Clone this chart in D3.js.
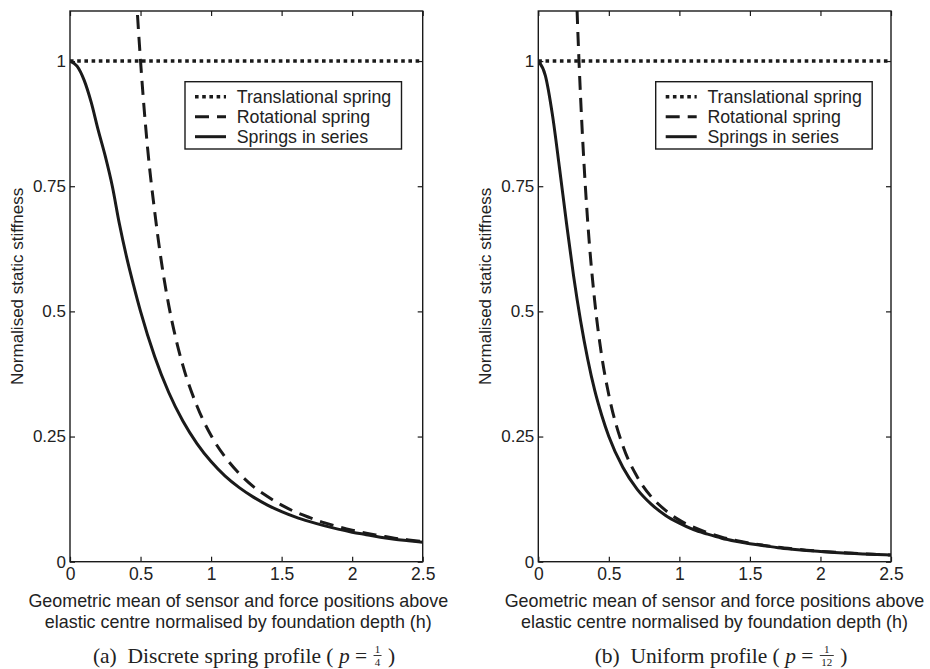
<!DOCTYPE html>
<html>
<head>
<meta charset="utf-8">
<script src="https://cdn.jsdelivr.net/npm/d3@7"></script>
<style>
  body { margin: 0; background: #fff; }
  svg text { fill: #222; }
</style>
</head>
<body>
<script>
// x positions where the curves were read
var xs = [0, 0.05, 0.1, 0.15, 0.2, 0.25, 0.3, 0.35, 0.4, 0.45, 0.5, 0.6, 0.7, 0.8, 0.9, 1,
    1.1, 1.2, 1.3, 1.4, 1.5, 1.6, 1.7, 1.8, 1.9, 2, 2.1, 2.2, 2.3, 2.4, 2.5]

// (a) discrete spring profile
var seriesA = [1, 0.99, 0.962, 0.918, 0.862, 0.81, 0.75, 0.675, 0.61, 0.553, 0.5, 0.41, 0.338,
    0.281, 0.236, 0.2, 0.171, 0.148, 0.129, 0.113, 0.1, 0.089, 0.08, 0.072, 0.065, 0.059,
    0.054, 0.049, 0.045, 0.042, 0.039]
var rotAx = [0.46, 0.48, 0.5, 0.55, 0.6, 0.65, 0.7, 0.75, 0.8, 0.9, 1, 1.1, 1.2, 1.3, 1.4,
    1.5, 1.6, 1.7, 1.8, 1.9, 2, 2.1, 2.2, 2.3, 2.4, 2.5]
var rotAy = [1.18, 1.085, 1.0, 0.826, 0.7, 0.595, 0.512, 0.446, 0.392, 0.311, 0.252, 0.209,
    0.176, 0.15, 0.13, 0.113, 0.099, 0.088, 0.078, 0.07, 0.063, 0.057, 0.052, 0.047, 0.0435, 0.04]

// (b) uniform profile
var seriesB = [1, 0.971, 0.893, 0.787, 0.676, 0.571, 0.481, 0.405, 0.342, 0.292, 0.25, 0.188,
    0.145, 0.115, 0.093, 0.077, 0.064, 0.055, 0.047, 0.041, 0.036, 0.032, 0.028, 0.025,
    0.0225, 0.0204, 0.0185, 0.017, 0.0155, 0.0143, 0.0132]
var rotBx = [0.265, 0.275, 0.29, 0.3, 0.325, 0.35, 0.4, 0.45, 0.5, 0.6, 0.7, 0.8, 0.9, 1,
    1.1, 1.2, 1.3, 1.4, 1.5, 1.6, 1.7, 1.8, 1.9, 2, 2.2, 2.4, 2.5]
var rotBy = [1.19, 1.1, 0.99, 0.926, 0.79, 0.68, 0.52, 0.41, 0.333, 0.231, 0.17, 0.13, 0.103,
    0.083, 0.069, 0.058, 0.049, 0.0425, 0.037, 0.0326, 0.0288, 0.0257, 0.023, 0.0208,
    0.0172, 0.0145, 0.0133]

var xTicks = [0, 0.5, 1, 1.5, 2, 2.5]
var yTicks = [0, 0.25, 0.5, 0.75, 1]
var legendLabels = ['Translational spring', 'Rotational spring', 'Springs in series']
var xLabel = ['Geometric mean of sensor and force positions above',
    'elastic centre normalised by foundation depth (h)']
var yLabel = 'Normalised static stiffness'

var panels = [
    { id: 'a', left: 70, right: 422.7, xLabelX: 238.3, capX: 244, legendX: 185,
      cap: '(a)\u00a0\u00a0Discrete spring profile (\u00a0', den: '4',
      series: seriesA, rotX: rotAx, rotY: rotAy },
    { id: 'b', left: 538.3, right: 891, xLabelX: 714.5, capX: 721, legendX: 655.7,
      cap: '(b)\u00a0\u00a0Uniform profile (\u00a0', den: '12',
      series: seriesB, rotX: rotBx, rotY: rotBy }
]
var plotTop = 11, plotBottom = 561.7
var ink = '#1a1a1a'
var sans = 'Arial, "Liberation Sans", Helvetica, sans-serif'
var serif = '"Times New Roman", "Liberation Serif", serif'

var svg = d3.select('body').append('svg')
    .attr('width', 930)
    .attr('height', 669)

panels.forEach(p => {
    var x = d3.scaleLinear().domain([0, 2.5]).range([p.left, p.right])
    var y = d3.scaleLinear().domain([0, 1.1]).range([plotBottom, plotTop])
    var g = svg.append('g')

    g.append('clipPath').attr('id', 'clip-' + p.id)
        .append('rect')
        .attr('x', p.left).attr('y', plotTop)
        .attr('width', p.right - p.left).attr('height', plotBottom - plotTop)

    // axes, ticks pointing inwards
    var fmt = d => d3.format('')(d)
    g.append('g').attr('transform', 'translate(0,' + plotBottom + ')')
        .call(d3.axisBottom(x).tickValues(xTicks).tickSize(-5).tickPadding(6).tickFormat(fmt))
    var axL = g.append('g').attr('transform', 'translate(' + p.left + ',0)')
        .call(d3.axisLeft(y).tickValues(yTicks).tickSize(-5).tickPadding(4).tickFormat(fmt))
    g.append('g').attr('transform', 'translate(0,' + plotTop + ')')
        .call(d3.axisTop(x).tickValues(xTicks).tickSize(-5).tickFormat(''))
    g.append('g').attr('transform', 'translate(' + p.right + ',0)')
        .call(d3.axisRight(y).tickValues(yTicks).tickSize(-5).tickFormat(''))
    g.selectAll('.domain').remove()
    g.selectAll('.tick line').attr('stroke', ink).attr('stroke-width', 1.2)
    g.selectAll('.tick text').attr('font-family', sans).attr('font-size', 17.5).attr('fill', '#222')
    axL.selectAll('.tick text').attr('font-size', 17)

    g.append('rect')
        .attr('x', p.left).attr('y', plotTop)
        .attr('width', p.right - p.left).attr('height', plotBottom - plotTop)
        .attr('fill', 'none').attr('stroke', ink).attr('stroke-width', 1.4)

    // curves
    var line = d3.line().x(d => x(d[0])).y(d => y(d[1])).curve(d3.curveMonotoneX)
    var curves = g.append('g').attr('clip-path', 'url(#clip-' + p.id + ')')
    curves.append('path')
        .attr('d', line([[0, 1], [2.5, 1]]))
        .attr('fill', 'none').attr('stroke', ink).attr('stroke-width', 3.4)
        .attr('stroke-dasharray', '3.6,3.6')
    curves.append('path')
        .attr('d', line(p.rotX.map((v, i) => [v, p.rotY[i]])))
        .attr('fill', 'none').attr('stroke', ink).attr('stroke-width', 3)
        .attr('stroke-dasharray', '14,8')
    curves.append('path')
        .attr('d', line(xs.map((v, i) => [v, p.series[i]])))
        .attr('fill', 'none').attr('stroke', ink).attr('stroke-width', 3)

    // legend
    var lg = g.append('g').attr('transform', 'translate(' + p.legendX + ',81.7)')
    lg.append('rect').attr('width', 216.5).attr('height', 67.3)
        .attr('fill', '#fff').attr('stroke', ink).attr('stroke-width', 1.4)
    var styles = [
        { w: 3.4, dash: '3.6,3.6' },
        { w: 3, dash: '14,8' },
        { w: 3, dash: null }
    ]
    legendLabels.forEach((lab, i) => {
        var ly = 15 + i * 20
        lg.append('line').attr('x1', 10).attr('x2', 41).attr('y1', ly).attr('y2', ly)
            .attr('stroke', ink).attr('stroke-width', styles[i].w)
            .attr('stroke-dasharray', styles[i].dash)
        lg.append('text').attr('x', 51.7).attr('y', ly).attr('dy', '0.35em')
            .attr('font-family', sans).attr('font-size', 17.8)
            .text(lab)
    })

    // axis labels
    xLabel.forEach((t, i) => {
        g.append('text').attr('x', p.xLabelX).attr('y', 607 + i * 20.5)
            .attr('text-anchor', 'middle')
            .attr('font-family', sans).attr('font-size', 17.9)
            .text(t)
    })
    g.append('text')
        .attr('transform', 'translate(' + (p.left - 47) + ',' + ((plotTop + plotBottom) / 2) + ') rotate(-90)')
        .attr('text-anchor', 'middle')
        .attr('font-family', sans).attr('font-size', 17)
        .text(yLabel)

    // caption with stacked fraction
    var cap = g.append('g')
    var t1 = cap.append('text').attr('x', 0).attr('y', 663)
        .attr('font-family', serif).attr('font-size', 21.5)
    t1.append('tspan').text(p.cap)
    t1.append('tspan').attr('font-style', 'italic').text('p')
    t1.append('tspan').text('\u00a0=\u00a0')
    var w1 = t1.node().getComputedTextLength()
    var fw = p.den.length * 6 + 2
    var fx = w1 + 1 + fw / 2
    cap.append('text').attr('x', fx).attr('y', 653)
        .attr('text-anchor', 'middle').attr('font-family', serif).attr('font-size', 11)
        .text('1')
    cap.append('line').attr('x1', fx - fw / 2).attr('x2', fx + fw / 2)
        .attr('y1', 655.5).attr('y2', 655.5).attr('stroke', '#222').attr('stroke-width', 0.9)
    cap.append('text').attr('x', fx).attr('y', 665.5)
        .attr('text-anchor', 'middle').attr('font-family', serif).attr('font-size', 11)
        .text(p.den)
    var t2 = cap.append('text').attr('x', w1 + fw + 2).attr('y', 663)
        .attr('font-family', serif).attr('font-size', 21.5)
        .text('\u00a0)')
    var total = w1 + fw + 2 + t2.node().getComputedTextLength()
    cap.attr('transform', 'translate(' + (p.capX - total / 2) + ',0)')
})
</script>
</body>
</html>
